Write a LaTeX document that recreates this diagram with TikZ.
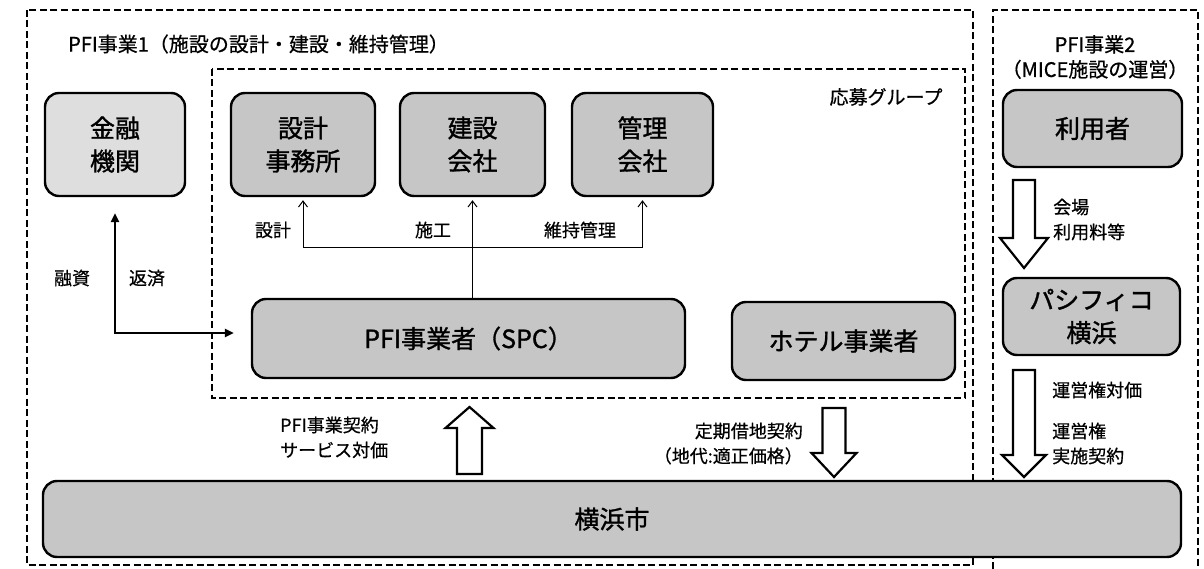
\documentclass[tikz,border=0pt]{standalone}
\usepackage{fontspec}
\setmainfont{Noto Sans CJK JP}[FakeBold=0.6]
\newfontfamily\boxfont{Noto Sans CJK JP}[FakeBold=1.3]
\usetikzlibrary{arrows.meta,calc}
\definecolor{boxgray}{RGB}{198,198,198}
\definecolor{lightgray}{RGB}{222,222,222}
\newcommand\blockarrow[6]{% x, tail y, head-base y, tip y, half shaft, half head
  \draw[bigarrow] (#1-#5,#2) -- (#1-#5,#3) -- (#1-#6,#3) -- (#1,#4) -- (#1+#6,#3) -- (#1+#5,#3) -- (#1+#5,#2) -- cycle;}
\begin{document}
\begin{tikzpicture}[x=1pt,y=-1pt,
  dashbox/.style={draw, line width=2pt, dash pattern=on 7pt off 3.5pt},
  box/.style={draw, line width=2.4pt, rounded corners=14pt, fill=boxgray, align=center,
    font=\boxfont\fontsize{25}{33}\selectfont, inner sep=0pt},
  lbl/.style={font=\fontsize{18}{25}\selectfont, inner sep=0pt},
  ttl/.style={font=\fontsize{20}{25}\selectfont, inner sep=0pt},
  bigarrow/.style={draw, line width=2.2pt, fill=white, line join=miter},
  treearrow/.style={line width=1pt, {Straight Barb[length=6pt,width=9pt]}-{Straight Barb[length=6pt,width=9pt]}},
  loanarrow/.style={line width=2.5pt, {Triangle[length=9pt,width=8pt]}-{Triangle[length=9pt,width=8pt]}}
]
\useasboundingbox (0,0) rectangle (1204,569);
\fill[white] (0,0) rectangle (1204,569);

% dashed frames
\draw[dashbox] (27,10) rectangle (973,565);
\draw[dashbox] (212,69) rectangle (965,398);
\draw[dashbox] (993,569) -- (993,10) -- (1198,10) -- (1198,569);

% titles
\node[ttl, anchor=west] (t1) at (68,44) {PFI事業1（施設の設計・建設・維持管理）};
\node[ttl, align=center] (t2) at (1095,57) {PFI事業2\\（MICE施設の運営）};
\node[lbl, font=\fontsize{19}{25}\selectfont] (grp) at (886,97) {応募グループ};

% boxes
\node[box, fill=lightgray, minimum width=140pt, minimum height=103pt] (kinyu) at (115,144.5) {金融\\機関};
\node[box, minimum width=144pt, minimum height=103pt] (sekkei) at (303,144.5) {設計\\事務所};
\node[box, minimum width=145pt, minimum height=103pt] (kensetsu) at (472.5,144.5) {建設\\会社};
\node[box, minimum width=141pt, minimum height=103pt] (kanri) at (642.5,144.5) {管理\\会社};
\node[box, minimum width=433pt, minimum height=79pt] (spc) at (468.5,338.5) {PFI事業者（SPC）};
\node[box, minimum width=223pt, minimum height=78pt] (hotel) at (843.5,341) {ホテル事業者};
\node[box, minimum width=179pt, minimum height=77pt] (riyou) at (1092.5,128.5) {利用者};
\node[box, minimum width=177pt, minimum height=77pt] (pacifico) at (1091.5,316.5) {パシフィコ\\横浜};
\node[box, minimum width=1138pt, minimum height=76pt] (yokohama) at (612,519) {横浜市};

% loan arrow
\coordinate (loancorner) at (kinyu.south |- 0,333);
\draw[loanarrow] ([yshift=-16pt]kinyu.south) -- (loancorner) -- ([xshift=-17pt]spc.west |- loancorner);
\node[lbl] (yushi) at (72,278) {融資};
\node[lbl] (hensai) at (147,278) {返済};

% tree arrows
\coordinate (tj) at (470,248);
\draw[treearrow] ([yshift=-3pt]sekkei.south) -- (sekkei.south |- tj) -- (kanri.south |- tj) -- ([yshift=-3pt]kanri.south);
\draw[line width=1pt, -{Straight Barb[length=6pt,width=9pt]}] (kensetsu.south |- spc.north) -- ([yshift=-3pt]kensetsu.south);
\node[lbl] (l1) at (273,230) {設計};
\node[lbl] (l2) at (433,230) {施工};
\node[lbl] (l3) at (580,230) {維持管理};

% block arrows
\blockarrow{469.5}{474}{428}{407}{12.5}{24}
\blockarrow{834}{408}{453}{477}{11.5}{22.5}
\blockarrow{1024}{180}{238}{268}{11}{24}
\blockarrow{1024}{370}{455}{477}{11}{22}

\node[lbl, anchor=west, align=left] (c1) at (280,437.5) {PFI事業契約\\サービス対価};
\node[lbl, anchor=east, align=right] (c2) at (803,443.5) {定期借地契約\\（地代:適正価格）};
\node[lbl, anchor=west, align=left] (c3) at (1053,219.5) {会場\\利用料等};
\node[lbl, anchor=west] (c4) at (1052,390) {運営権対価};
\node[lbl, anchor=west, align=left] (c5) at (1052,443.5) {運営権\\実施契約};
\end{tikzpicture}
\end{document}
